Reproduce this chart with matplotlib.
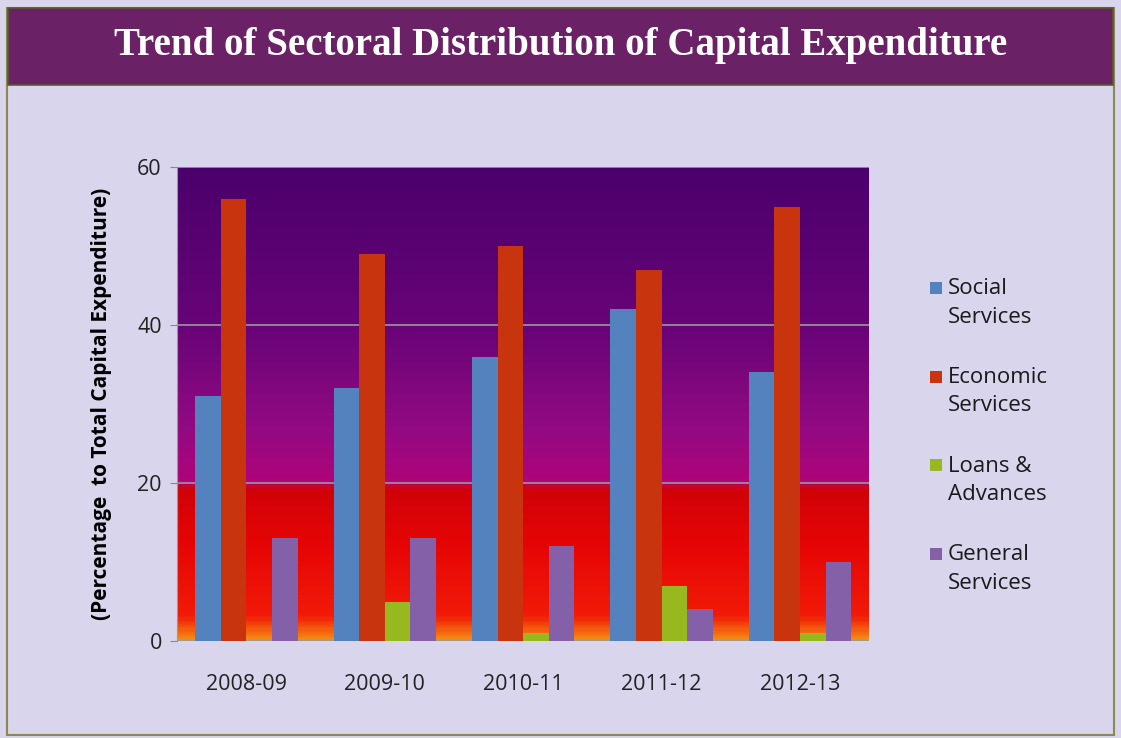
import numpy as np
import matplotlib.pyplot as plt
from matplotlib.colors import LinearSegmentedColormap
from matplotlib.patches import Rectangle

years = ["2008-09", "2009-10", "2010-11", "2011-12", "2012-13"]
social = [31, 32, 36, 42, 34]
economic = [56, 49, 50, 47, 55]
loans = [0, 5, 1, 7, 1]
general = [13, 13, 12, 4, 10]

series_names = ["Social\nServices", "Economic\nServices", "Loans &\nAdvances", "General\nServices"]
series_colors = ["#5482bf", "#c8340e", "#98b820", "#8360a8"]

plt.rcParams["font.family"] = ["Open Sans", "DejaVu Sans"]

W, H = 1121, 738
fig = plt.figure(figsize=(W / 100, H / 100), dpi=100)
fig.patch.set_facecolor("#d9d5ec")

# page frame and title banner
fig.patches.append(Rectangle((0.006, 0.004), 0.988, 0.985, transform=fig.transFigure,
                             facecolor="none", edgecolor="#8a8a50", lw=1.5))
fig.patches.append(Rectangle((0.007, 0.885), 0.986, 0.104, transform=fig.transFigure,
                             facecolor="#6b2166", edgecolor="#5a5a30", lw=1.2))
fig.text(0.5, 0.938, "Trend of Sectoral Distribution of Capital Expenditure",
         ha="center", va="center", color="white", fontsize=28, fontweight="bold",
         family=["Liberation Serif", "DejaVu Serif"])

ax = fig.add_axes([0.158, 0.1314, 0.6173, 0.6423])

# gradient plot background
grad = LinearSegmentedColormap.from_list("bg", [
    (0.0, "#f58a12"),
    (0.05, "#f21a08"),
    (0.20, "#e60505"),
    (0.32, "#d00208"),
    (0.333, "#b0047a"),
    (0.45, "#920a82"),
    (0.65, "#6a0478"),
    (1.0, "#4a006c"),
])
ax.imshow(np.linspace(1, 0, 300).reshape(-1, 1), cmap=grad, aspect="auto",
          extent=[-0.5, len(years) - 0.5, 0, 60], zorder=0)

x = np.arange(len(years))
w = 0.185
for i, (vals, col) in enumerate(zip([social, economic, loans, general], series_colors)):
    ax.bar(x + (i - 1.5) * w, vals, width=w, color=col, zorder=3)

ax.set_xlim(-0.5, len(years) - 0.5)
ax.set_ylim(0, 60)
ax.set_yticks([0, 20, 40, 60])
ax.set_xticks(x)
ax.set_xticklabels(years)
ax.tick_params(axis="x", labelsize=15.5, length=0, pad=24, colors="#222222")
ax.tick_params(axis="y", labelsize=15.5, length=5, color="#888888", pad=6, colors="#222222")
ax.yaxis.grid(True, color="#9a9a9a", lw=1.2, zorder=1)
ax.set_axisbelow(False)
for s in ["top", "right", "bottom"]:
    ax.spines[s].set_visible(False)
ax.spines["left"].set_color("#999999")
ax.set_ylabel("(Percentage  to Total Capital Expenditure)", fontsize=15,
              fontweight="bold", labelpad=18)

# legend drawn by hand: square beside the first line of each label
for k, (name, col) in enumerate(zip(series_names, series_colors)):
    y_first = 288 + k * 88.7
    fig.patches.append(Rectangle((930 / W, 1 - (y_first + 6) / H), 12 / W, 12 / H,
                                 transform=fig.transFigure, facecolor=col, edgecolor="none"))
    fig.text(948 / W, 1 - (y_first + 15) / H, name, ha="left", va="center",
             fontsize=16, linespacing=1.45, color="#1a1a1a")

fig.savefig("out.png", dpi=100, facecolor=fig.get_facecolor())
